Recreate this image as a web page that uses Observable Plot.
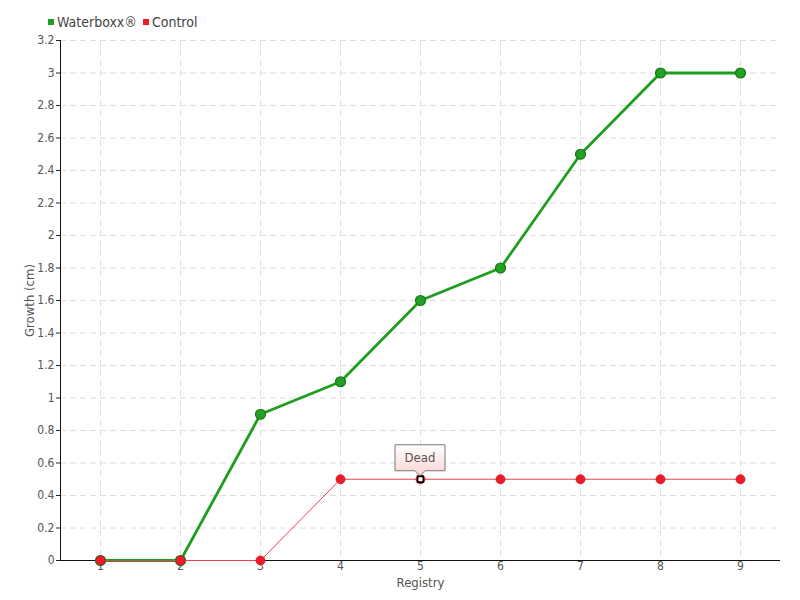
<!DOCTYPE html>
<html><head><meta charset="utf-8">
<script src="https://cdn.jsdelivr.net/npm/d3@7"></script>
<script src="https://cdn.jsdelivr.net/npm/@observablehq/plot@0.6"></script>
<style>
body{margin:0;background:#fff;font-family:"DejaVu Sans Condensed","DejaVu Sans",sans-serif}
#wrap{position:relative;width:800px;height:600px}
#legend{position:absolute;left:48px;top:14px;font-size:14px;color:#444;display:flex;align-items:center;white-space:nowrap}
.sw{display:inline-block;width:6px;height:6px;margin-right:3px}
.item{display:flex;align-items:center;margin-right:6px}
</style></head>
<body><div id="wrap"><div id="legend"></div></div>
<script>
const registry = [1, 2, 3, 4, 5, 6, 7, 8, 9];
const waterboxx = [0, 0, 0.9, 1.1, 1.6, 1.8, 2.5, 3, 3];
const control = [0, 0, 0, 0.5, 0.5, 0.5, 0.5, 0.5, 0.5];
const seriesNames = ["Waterboxx®", "Control"];
const seriesColors = ["#1e9e1e", "#ee1c2a"];
const yTicks = [0, 0.2, 0.4, 0.6, 0.8, 1, 1.2, 1.4, 1.6, 1.8, 2, 2.2, 2.4, 2.6, 2.8, 3, 3.2];
const xTicks = [1, 2, 3, 4, 5, 6, 7, 8, 9];
const deadIndex = 4;
const deadLabel = "Dead";
const xLabel = "Registry";
const yLabel = "Growth (cm)";

(function () {
const rowsW = registry.map((r, i) => ({r, v: waterboxx[i]}));
const rowsC = registry.map((r, i) => ({r, v: control[i]}));
const dead = [rowsC[deadIndex]];

const font = '"DejaVu Sans Condensed","DejaVu Sans",sans-serif';

const plot = Plot.plot({
  width: 800, height: 600,
  marginLeft: 60, marginRight: 20, marginTop: 40, marginBottom: 40,
  style: {fontFamily: font, fontSize: "12px", color: "#555", background: "white", overflow: "visible"},
  x: {domain: [0.5, 9.5]},
  y: {domain: [0, 3.2]},
  marks: [
    Plot.gridX(xTicks, {stroke: "#dcdcdc", strokeOpacity: 1, strokeDasharray: "6,4"}),
    Plot.gridY(yTicks, {stroke: "#dcdcdc", strokeOpacity: 1, strokeDasharray: "6,4"}),
    Plot.axisX({ticks: xTicks, tickSize: 0, tickPadding: 1, label: null, fill: "#555", fontSize: 12}),
    Plot.axisY({ticks: yTicks, tickSize: 4, tickPadding: 2, tickFormat: d => String(d), label: null, fill: "#555", stroke: "#222", fontSize: 12}),
    Plot.ruleY([0], {stroke: "#111", strokeWidth: 1}),
    Plot.ruleX([0.5], {stroke: "#111", strokeWidth: 1}),
    Plot.text([xLabel], {frameAnchor: "bottom", lineAnchor: "middle", dy: 22, fill: "#555", fontSize: 13}),
    Plot.text([yLabel], {frameAnchor: "left", textAnchor: "middle", lineAnchor: "middle", dx: -31, rotate: -90, fill: "#555", fontSize: 13}),
    Plot.line(rowsW, {x: "r", y: "v", stroke: seriesColors[0], strokeWidth: 2.8}),
    Plot.dot(rowsW, {x: "r", y: "v", r: 5, fill: "#24a024", stroke: "#167a16", strokeWidth: 1.2}),
    Plot.line(rowsC, {x: "r", y: "v", stroke: "#f04050", strokeWidth: 1}),
    Plot.dot(rowsC, {x: "r", y: "v", r: 4.5, fill: seriesColors[1], stroke: "#d01020", strokeWidth: 0.8}),
    Plot.dot(dead, {x: "r", y: "v", symbol: "square", r: 3.2, fill: "white", stroke: "black", strokeWidth: 1.6})
  ]
});

document.getElementById("wrap").appendChild(plot);

const sx = plot.scale("x"), sy = plot.scale("y");
const px = sx.apply(registry[deadIndex]), py = sy.apply(control[deadIndex]);
const svg = d3.select(plot);
const defs = svg.append("defs");
const g = defs.append("linearGradient").attr("id", "tipgrad").attr("x1", 0).attr("y1", 0).attr("x2", 0).attr("y2", 1);
g.append("stop").attr("offset", "0%").attr("stop-color", "#ffffff");
g.append("stop").attr("offset", "100%").attr("stop-color", "#fbd3d3");
const w = 50, boxTop = py - 34, boxBot = py - 8;
const tip = svg.append("g");
tip.append("path")
  .attr("d", `M${px - w/2},${boxTop}H${px + w/2}V${boxBot}H${px + 5}L${px},${py - 3}L${px - 5},${boxBot}H${px - w/2}Z`)
  .attr("fill", "url(#tipgrad)").attr("stroke", "#777").attr("stroke-width", 1);
tip.append("text").attr("x", px).attr("y", (boxTop + boxBot) / 2).attr("dy", "0.35em")
  .attr("text-anchor", "middle").attr("fill", "#555").attr("font-size", 13).attr("font-family", font).text(deadLabel);

const leg = document.getElementById("legend");
seriesNames.forEach((n, i) => {
  const it = document.createElement("span"); it.className = "item";
  const sw = document.createElement("span"); sw.className = "sw"; sw.style.background = seriesColors[i];
  it.appendChild(sw); it.appendChild(document.createTextNode(n));
  leg.appendChild(it);
});
})();
</script>
</body></html>
